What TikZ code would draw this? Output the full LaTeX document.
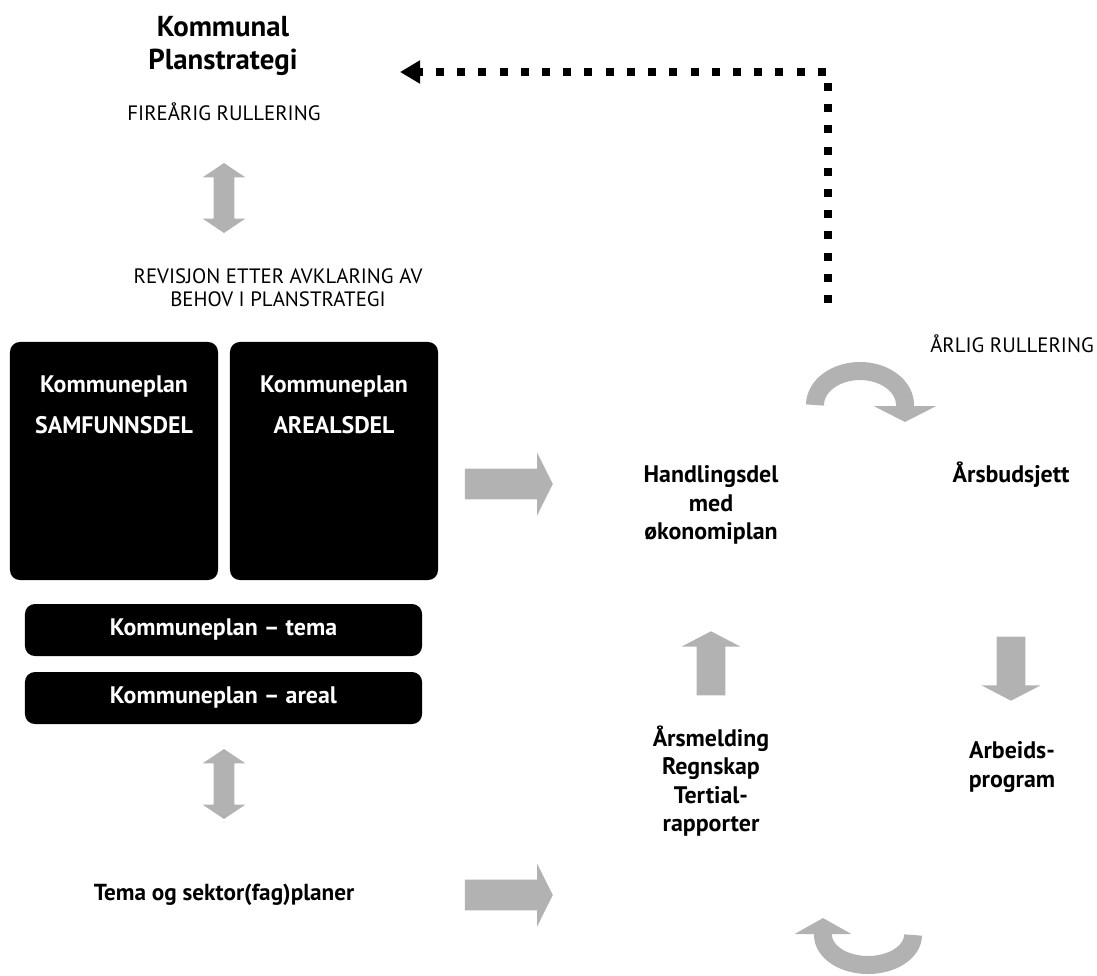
\documentclass[tikz,border=0pt]{standalone}
\usepackage{fontspec}
\setmainfont{PT Sans}
\usetikzlibrary{shapes.arrows,arrows.meta,positioning}
\definecolor{blockgray}{RGB}{178,178,178}
\newcommand{\fsz}[2]{\fontsize{#1}{#2}\selectfont}

\begin{document}
\begin{tikzpicture}[x=0.025cm,y=-0.025cm,
  panel/.style={fill=black,rounded corners=0.25cm,inner sep=0pt},
  bar/.style={panel,minimum width=9.925cm,minimum height=1.3cm,text=white,font=\bfseries\fsz{17}{20}},
  paneltext/.style={text=white,font=\bfseries\fsz{17}{29},align=center},
  heading/.style={font=\bfseries\fsz{20.5}{23.5},align=center},
  capsnote/.style={font=\fsz{14.8}{16.3},align=center},
  cycletext/.style={font=\bfseries\fsz{17}{20.2},align=center},
  updown/.style={double arrow,fill=blockgray,inner xsep=0pt,inner ysep=0.25cm,minimum height=1.75cm,
    double arrow head extend=0.275cm,double arrow tip angle=112,rotate=90},
  fwd/.style={single arrow,fill=blockgray,inner xsep=0pt,inner ysep=0.375cm,minimum height=2.2cm,
    single arrow head extend=0.4cm,single arrow tip angle=127},
  turn/.style={single arrow,fill=blockgray,inner xsep=0pt,inner ysep=0.35cm,minimum height=1.6cm,
    single arrow head extend=0.375cm,single arrow tip angle=125},
  turnarc/.style={blockgray,line width=0.45cm},
  feedback/.style={line width=0.2cm,dash pattern=on 0.2cm off 0.33cm,-{Triangle[width=0.55cm,length=0.5cm]}},
]
  \useasboundingbox (0,0) rectangle (1097,975);

  % left column
  \node[heading] (plan) at (223,46) {Kommunal\\Planstrategi};
  \node[capsnote] (fire) at (224,112) {FIREÅRIG RULLERING};
  \node[updown] (ud1) at (224,198) {};
  \node[capsnote] (revisjon) at (278,288) {REVISJON ETTER AVKLARING AV\\BEHOV I PLANSTRATEGI};

  \node[panel,minimum width=5.2cm,minimum height=5.95cm] (samf) at (114,461) {};
  \node[panel,minimum width=5.2cm,minimum height=5.95cm] (areal) at (334,461) {};
  \node[paneltext] at (114,405) {Kommuneplan\\SAMFUNNSDEL};
  \node[paneltext] at (334,405) {Kommuneplan\\AREALSDEL};
  \node[bar] (tema) at (223.5,630) {Kommuneplan – tema};
  \node[bar] (arealbar) at (223.5,698) {Kommuneplan – areal};
  \node[updown] (ud2) at (224,784) {};
  \node[cycletext,font=\bfseries\fsz{16.5}{20}] (sektor) at (224,895) {Tema og sektor(fag)planer};

  \node[fwd] (fwd1) at (505,484) {};
  \node[fwd] (fwd2) at (505,895) {};

  % annual cycle
  \node[capsnote] (arlig) at (1012,344) {ÅRLIG RULLERING};
  \node[cycletext] (handling) at (711,505) {Handlingsdel\\med\\økonomiplan};
  \node[cycletext] (budsjett) at (1011,475) {Årsbudsjett};
  \node[turn,rotate=-90] (downa) at (1011,665) {};
  \node[cycletext] (arbeid) at (1012,767) {Arbeids-\\program};
  \node[turn,rotate=90] (upa) at (711,667) {};
  \node[cycletext] (melding) at (711,781) {Årsmelding\\Regnskap\\Tertial-\\rapporter};

  \coordinate (toparc) at (815,405);
  \coordinate (botarc) at (913,935);
  \draw[turnarc,-{Triangle[width=1.55cm,length=0.4cm]}] (toparc)
    arc[start angle=180,end angle=360,x radius=45,y radius=34] -- ++(0,17);
  \draw[turnarc,-{Triangle[width=1.4cm,length=0.4cm]}] (botarc)
    arc[start angle=0,end angle=180,x radius=45,y radius=30] -- ++(0,-17);

  % feedback to the plan strategy
  \coordinate (fbfoot) at (828,303);
  \coordinate (fbtip) at (400,72);
  \draw[feedback] (fbfoot) |- (fbtip);
\end{tikzpicture}
\end{document}
